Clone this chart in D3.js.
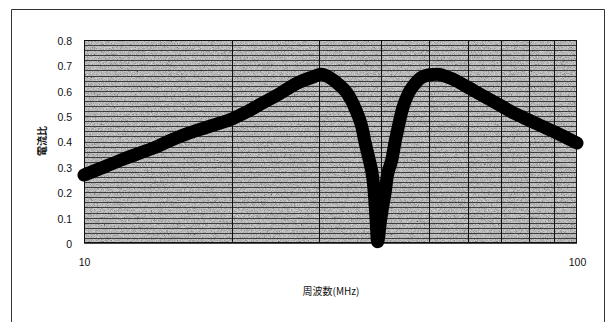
<!DOCTYPE html>
<html>
<head>
<meta charset="utf-8">
<script src="https://cdn.jsdelivr.net/npm/d3@7"></script>
<style>
  html, body { margin: 0; padding: 0; background: #fff; }
  svg { display: block; }
  text { font-family: "Liberation Sans", Arial, "Noto Sans CJK JP", sans-serif; fill: #111; }
</style>
</head>
<body>
<svg id="chart" width="609" height="322"></svg>
<script>
// ---- data ----
const freqMHz = [10, 11, 12, 13, 14, 15, 16, 17, 18, 20, 21.4, 23.1, 25, 27, 29.2, 30.3,
                 31.5, 33, 34.2, 35.6, 36.6, 37.2, 37.9, 38.5, 38.8, 39.1, 39.4,
                 39.9, 40.4, 40.8, 41.2, 42.1, 42.7, 43.4, 44.2, 45.5, 46.8, 48, 50, 52,
                 55.3, 59.8, 64.5, 69.8, 74.8, 80.3, 90.2, 100];
const currentRatio = [0.268, 0.30, 0.33, 0.355, 0.378, 0.405, 0.427, 0.445, 0.46, 0.49, 0.517,
                      0.553, 0.59, 0.629, 0.655, 0.665,
                      0.652, 0.622, 0.59, 0.524, 0.458, 0.393, 0.327, 0.261, 0.196, 0.1, 0.005,
                      0.08, 0.15, 0.196, 0.261, 0.327, 0.393, 0.458, 0.524, 0.59, 0.625, 0.648,
                      0.662, 0.665, 0.65, 0.616, 0.58, 0.543, 0.51, 0.482, 0.437, 0.394];
const yTicks = [0, 0.1, 0.2, 0.3, 0.4, 0.5, 0.6, 0.7, 0.8];
const xTickLabels = [10, 100];
const xGridValues = [20, 30, 40, 50, 60, 70, 80, 90];
const yMinorValues = d3.range(0, 0.8001, 0.02);
const yAxisTitle = "電流比";
const xAxisTitle = "周波数(MHz)";

// ---- layout ----
const svg = d3.select("#chart");
const plot = { left: 84, right: 577, top: 40, bottom: 243 };

const x = d3.scaleLog().domain([10, 100]).range([plot.left, plot.right]);
const y = d3.scaleLinear().domain([0, 0.8]).range([plot.bottom, plot.top]);

// outer chart frame
svg.append("path")
  .attr("d", `M11.5,322 L11.5,9.5 L604.5,9.5 L604.5,322`)
  .attr("fill", "none").attr("stroke", "#333").attr("stroke-width", 1);

// noise filter for stippled background
const defs = svg.append("defs");
const f = defs.append("filter").attr("id", "noise")
  .attr("x", 0).attr("y", 0).attr("width", "100%").attr("height", "100%");
f.append("feTurbulence").attr("type", "fractalNoise").attr("baseFrequency", 1.3)
  .attr("numOctaves", 1).attr("seed", 4).attr("result", "t");
f.append("feColorMatrix").attr("in", "t").attr("type", "matrix")
  .attr("values", "1.6 0 0 0 -0.3  1.6 0 0 0 -0.3  1.6 0 0 0 -0.3  0 0 0 0 1");

const pw = plot.right - plot.left, ph = plot.bottom - plot.top;
svg.append("rect").attr("x", plot.left).attr("y", plot.top).attr("width", pw).attr("height", ph)
  .attr("fill", "#b4b4b4");
svg.append("rect").attr("x", plot.left).attr("y", plot.top).attr("width", pw).attr("height", ph)
  .attr("filter", "url(#noise)").attr("opacity", 0.5);

// horizontal fine gridlines
svg.append("g").selectAll("line").data(yMinorValues).join("line")
  .attr("x1", plot.left).attr("x2", plot.right)
  .attr("y1", d => Math.round(y(d)) + 0.5).attr("y2", d => Math.round(y(d)) + 0.5)
  .attr("stroke", "#1e1e1e").attr("stroke-width", 1).attr("opacity", 0.8);

// vertical gridlines
svg.append("g").selectAll("line").data(xGridValues).join("line")
  .attr("x1", d => Math.round(x(d)) + 0.5).attr("x2", d => Math.round(x(d)) + 0.5)
  .attr("y1", plot.top).attr("y2", plot.bottom)
  .attr("stroke", "#111").attr("stroke-width", 1);

// plot border
svg.append("rect").attr("x", plot.left + 0.5).attr("y", plot.top + 0.5)
  .attr("width", pw - 1).attr("height", ph - 1)
  .attr("fill", "none").attr("stroke", "#111").attr("stroke-width", 1);

// y axis labels
const yAxis = d3.axisLeft(y).tickValues(yTicks).tickSize(0).tickPadding(12)
  .tickFormat(d => d === 0 ? "0" : d3.format(".1f")(d));
const gy = svg.append("g").attr("transform", `translate(${plot.left},1)`).call(yAxis);
gy.select(".domain").remove();
gy.selectAll("text").style("font-size", "10.5px").attr("fill", "#111")
  .style("font-family", '"Liberation Sans", Arial, sans-serif');

// x axis labels
const xAxis = d3.axisBottom(x).tickValues(xTickLabels).tickSize(0).tickPadding(16)
  .tickFormat(d3.format("d"));
const gx = svg.append("g").attr("transform", `translate(0,${plot.bottom})`).call(xAxis);
gx.select(".domain").remove();
gx.selectAll("text").style("font-size", "10.5px").attr("fill", "#111")
  .style("font-family", '"Liberation Sans", Arial, sans-serif');

// axis titles
svg.append("text").attr("transform", "translate(46,141) rotate(-90)")
  .attr("text-anchor", "middle")
  .style("font-family", '"Noto Sans CJK JP", sans-serif').style("font-size", "10px")
  .style("font-weight", "bold")
  .text(yAxisTitle);
svg.append("text").attr("x", 331).attr("y", 295).attr("text-anchor", "middle")
  .style("font-family", '"Noto Sans CJK JP", sans-serif').style("font-size", "10px")
  .text(xAxisTitle);

// the curve (dense thick markers in the original)
const pts = freqMHz.map((fq, i) => [fq, currentRatio[i]]);
const line = d3.line().x(d => x(d[0])).y(d => y(d[1])).curve(d3.curveMonotoneX);
svg.append("path").datum(pts).attr("d", line)
  .attr("fill", "none").attr("stroke", "#000").attr("stroke-width", 13)
  .attr("stroke-linejoin", "round").attr("stroke-linecap", "round");
</script>
</body>
</html>
